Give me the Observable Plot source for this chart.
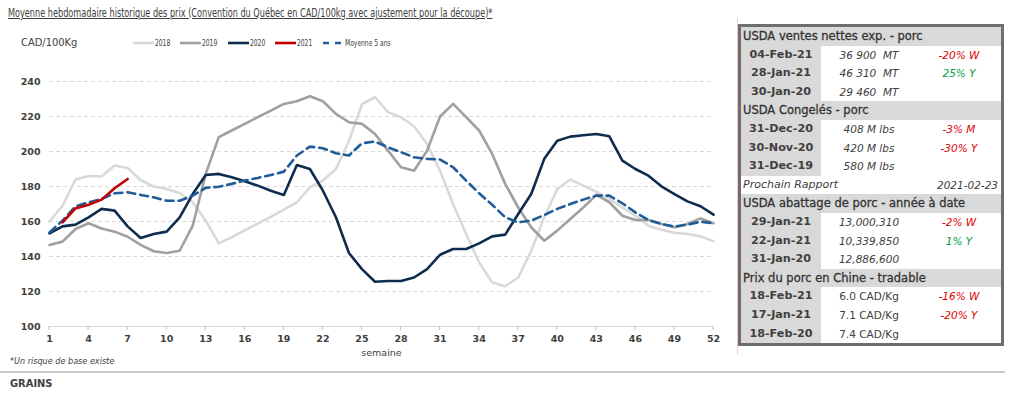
<!DOCTYPE html>
<html>
<head>
<meta charset="utf-8">
<script src="https://cdn.jsdelivr.net/npm/d3@7"></script>
<script src="https://cdn.jsdelivr.net/npm/@observablehq/plot@0.6"></script>
<style>
  html, body { margin: 0; padding: 0; background: #fff; }
  body { width: 1024px; height: 393px; position: relative; overflow: hidden; font-family: "DejaVu Sans", sans-serif; color: #404040; }
  .abs { position: absolute; white-space: nowrap; }
  #title { left: 8px; top: 5px; font-family: "DejaVu Sans Condensed", sans-serif; font-size: 12.5px; text-decoration: underline; color: #404040; transform: scaleX(0.725); transform-origin: left top; }
  #unit { left: 21px; top: 36px; font-size: 11px; font-family: "DejaVu Sans Condensed", sans-serif; }
  #legend { left: 0; top: 37px; width: 500px; height: 14px; font-family: "DejaVu Sans Condensed", sans-serif; font-size: 9px; }
  .li { position: absolute; top: 0; display: flex; align-items: center; height: 12px; }
  .li span { display: inline-block; transform: scaleX(0.74); transform-origin: left center; margin-left: 1px; }
  #chart { left: 0; top: 60px; }
  #foot { left: 10px; top: 356px; font-size: 9px; font-style: italic; font-family: "DejaVu Sans Condensed", sans-serif; }
  #rule { left: 0; top: 371px; width: 1005px; height: 2px; background: #c8c8c8; }
  #grains { left: 10px; top: 377px; font-size: 11px; font-weight: bold; font-family: "DejaVu Sans Condensed", sans-serif; }
  #pink { left: 737px; top: 18px; width: 1px; height: 337px; background: #efc9c9; }
  #tbl { left: 738px; top: 24px; width: 266px; height: 322px; box-sizing: border-box; border: 3px solid #6e6e6e; }
  #tbl table { border-collapse: collapse; width: 100%; font-family: "DejaVu Sans", sans-serif; font-size: 11px; color: #404040; table-layout: fixed; }
  #tbl td { height: 18.6px; padding: 0; line-height: 18.6px; overflow: visible; }
  #tbl td.h { background: #d9d9d9; padding-left: 2px; font-size: 11.5px; color: #333; -webkit-text-stroke: 0.3px #333; }
  #tbl td.d { background: #d9d9d9; font-weight: bold; text-align: center; width: 80px; font-size: 11.2px; }
  #tbl td.v { text-align: center; font-style: italic; width: 96px; font-size: 10.5px; }
  #tbl td.v.n { font-style: normal; }
  #tbl td.c { text-align: center; font-style: italic; font-size: 10.5px; }
  #tbl td.neg { color: #e00000; }
  #tbl td.pos { color: #00a040; }
  #tbl td.p { font-style: italic; padding-left: 2px; font-size: 11px; }
  #tbl td.pd { font-style: italic; text-align: right; padding-right: 3px; font-size: 10.5px; }
</style>
</head>
<body>
<div id="title" class="abs">Moyenne hebdomadaire historique des prix (Convention du Québec en CAD/100kg avec ajustement pour la découpe)*</div>
<div id="unit" class="abs">CAD/100Kg</div>
<div id="legend" class="abs"></div>
<div id="chart" class="abs"></div>
<div id="foot" class="abs">*Un risque de base existe</div>
<div id="rule" class="abs"></div>
<div id="grains" class="abs">GRAINS</div>
<div id="pink" class="abs"></div>
<div id="tbl" class="abs"></div>
<script>
// ---- Data ----
const weeks = [1,2,3,4,5,6,7,8,9,10,11,12,13,14,15,16,17,18,19,20,21,22,23,24,25,26,27,28,29,30,31,32,33,34,35,36,37,38,39,40,41,42,43,44,45,46,47,48,49,50,51,52];
const v2018 = [160,169,184,186,185.7,192,190.6,183.7,180,178.6,176.3,171,160.5,147.5,151,155,158.8,162.6,166.8,171,179.5,183.4,190,206,227,231,222.5,219.6,214.4,204.3,189,170,152.9,136.6,125.2,123,128,143.3,162.4,178.6,184,180.5,177,172.9,168,163.3,157.6,155.3,153.6,152.9,151.5,148.8];
const v2019 = [146.6,148.5,155.7,159,156,154.2,151.3,146.6,143,142,143.3,157.6,187.2,208.2,212,215.8,219.6,223.4,227.2,228.7,231.6,228.7,221.5,216.7,215.8,210,200.5,191,189,200.5,220,227.2,219.6,212,198.6,181.5,168,156.7,149,154.8,161.4,168,175.2,171,163.3,160.9,160.9,158.6,156.7,158.6,161.8,159];
const v2020 = [153.2,157.2,158.2,162.4,167.2,166.2,157.2,150.6,152.9,154.2,162.4,175.7,186.6,187.2,185.3,183,180.5,177.6,175.2,192.3,190,177.6,162.4,142,132.8,125.6,126,126,128,132.8,141,144.3,144.3,147.5,151.5,152.5,164.3,175.7,195.8,206.2,208.5,209.3,210,208.7,194.8,190,186.2,180.1,175.7,171.5,168.7,163.9];
const weeks2021 = [2,3,4,5,6,7];
const v2021 = [159.5,167.5,169.6,172.5,179,184.3];
const vMoy = [153.8,160.5,168.7,171,172.9,176.1,176.7,175.2,173.8,171.9,171.9,174.8,179.2,179.9,181.5,183.4,184.9,186.6,188.5,197.7,202.8,201.9,199,197.7,204.7,205.7,202.4,199.6,196.7,195.8,195.4,191,183.4,176.1,169.6,162.4,159.5,160.5,163.7,167.2,170,172.5,174.8,174.8,170.4,165.2,160.9,158.6,157.1,158.2,159.9,159];
const xTicks = [1,4,7,10,13,16,19,22,25,28,31,34,37,40,43,46,49,52];
const yTicks = [100,120,140,160,180,200,220,240];
const seriesNames = ["2018","2019","2020","2021","Moyenne 5 ans"];
const seriesColors = ["#d9d9d9","#a0a0a0","#0e2c4e","#c00000","#1f5c99"];

// Table data
const sections = [
  {title: "USDA ventes nettes exp. - porc", dates: ["04-Feb-21","28-Jan-21","30-Jan-20"], values: ["36 900&nbsp; MT","46 310&nbsp; MT","29 460&nbsp; MT"], changes: ["-20% W","25% Y",""], italic: true},
  {title: "USDA Congelés - porc", dates: ["31-Dec-20","30-Nov-20","31-Dec-19"], values: ["408 M lbs","420 M lbs","580 M lbs"], changes: ["-3% M","-30% Y",""], italic: true, next: ["Prochain Rapport","2021-02-23"]},
  {title: "USDA abattage de porc - année à date", dates: ["29-Jan-21","22-Jan-21","31-Jan-20"], values: ["13,000,310","10,339,850","12,886,600"], changes: ["-2% W","1% Y",""], italic: true},
  {title: "Prix du porc en Chine - tradable", dates: ["18-Feb-21","17-Jan-21","18-Feb-20"], values: ["6.0 CAD/Kg","7.1 CAD/Kg","7.4 CAD/Kg"], changes: ["-16% W","-20% Y",""], italic: false}
];

// ---- Build line data ----
const rows = [];
weeks.forEach((w,i) => rows.push({w, v: v2018[i], s: "2018"}));
weeks.forEach((w,i) => rows.push({w, v: v2019[i], s: "2019"}));
weeks.forEach((w,i) => rows.push({w, v: v2020[i], s: "2020"}));
const rows2021 = weeks2021.map((w,i) => ({w, v: v2021[i], s: "2021"}));
const rowsMoy = weeks.map((w,i) => ({w, v: vMoy[i], s: "Moyenne 5 ans"}));

const chart = Plot.plot({
  width: 730,
  height: 296,
  marginLeft: 49,
  marginRight: 17,
  marginTop: 21,
  marginBottom: 30,
  style: {fontFamily: "DejaVu Sans", fontSize: "9.5px", color: "#404040", background: "transparent", overflow: "visible"},
  x: {domain: [1,52], ticks: xTicks, tickSize: 0, tickPadding: 9, label: "semaine", labelAnchor: "center", labelOffset: 29, labelArrow: "none", tickFormat: d => String(d)},
  y: {domain: [100,240], ticks: yTicks, tickSize: 0, tickPadding: 9, label: null},
  color: {domain: seriesNames, range: seriesColors},
  marks: [
    Plot.ruleY(yTicks.filter(v => v > 100), {stroke: "#d9d9d9", strokeDasharray: "4,3", strokeWidth: 1}),
    Plot.ruleY([100], {stroke: "#d9d9d9", strokeWidth: 1.2}),
    Plot.line(rows, {x: "w", y: "v", z: "s", stroke: "s", strokeWidth: 2.6, strokeLinejoin: "round"}),
    Plot.line(rowsMoy, {x: "w", y: "v", stroke: "s", strokeWidth: 2.6, strokeDasharray: "8,5"}),
    Plot.line(rows2021, {x: "w", y: "v", stroke: "s", strokeWidth: 2.6, strokeLinejoin: "round"})
  ]
});
d3.select(chart).selectAll("[aria-label='x-axis tick label'] text").attr("font-weight", "bold");
d3.select(chart).selectAll("[aria-label='y-axis tick label'] text").attr("font-weight", "bold");
document.getElementById("chart").appendChild(chart);
// tiny tick marks at x-axis positions
const xs = chart.scale("x"), ys = chart.scale("y");
const tg = d3.select(chart).append("g").attr("stroke", "#bfbfbf");
xTicks.forEach(t => tg.append("line").attr("x1", xs.apply(t)).attr("x2", xs.apply(t)).attr("y1", ys.apply(100)).attr("y2", ys.apply(100) + 4));

// ---- Legend ----
const legX = [133, 180, 228, 275, 323];
const leg = d3.select("#legend");
seriesNames.forEach((n,i) => {
  const it = leg.append("div").attr("class", "li").style("left", legX[i] + "px");
  const s = it.append("svg").attr("width", 21).attr("height", 6);
  s.append("line").attr("x1", 0).attr("x2", 21).attr("y1", 3).attr("y2", 3)
    .attr("stroke", seriesColors[i]).attr("stroke-width", 2.6)
    .attr("stroke-dasharray", n === "Moyenne 5 ans" ? "6,6" : null);
  it.append("span").text(n);
});

// ---- Table ----
let html = "<table><colgroup><col style='width:80px'><col style='width:96px'><col></colgroup>";
sections.forEach(sec => {
  html += `<tr><td class="h" colspan="3">${sec.title}</td></tr>`;
  sec.dates.forEach((d,i) => {
    const c = sec.changes[i];
    const cls = c.startsWith("-") ? "neg" : (c ? "pos" : "");
    html += `<tr><td class="d">${d}</td><td class="v${sec.italic ? "" : " n"}">${sec.values[i]}</td><td class="c ${cls}">${c}</td></tr>`;
  });
  if (sec.next) {
    html += `<tr><td class="p" colspan="2">${sec.next[0]}</td><td class="pd">${sec.next[1]}</td></tr>`;
  }
});
html += "</table>";
document.getElementById("tbl").innerHTML = html;
</script>
</body>
</html>
